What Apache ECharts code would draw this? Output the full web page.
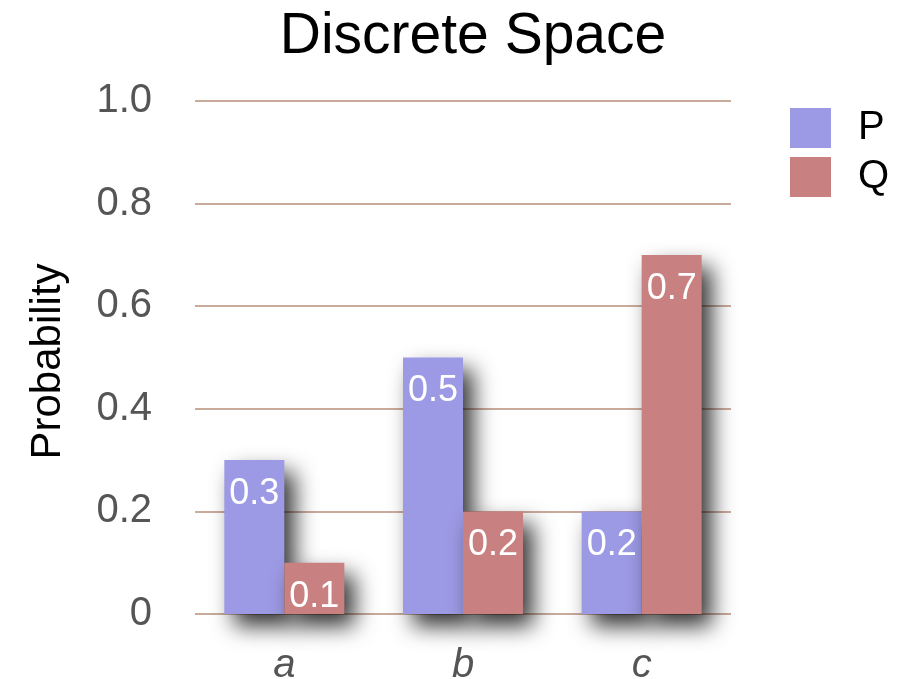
<!DOCTYPE html>
<html>
<head>
<meta charset="utf-8">
<script src="https://cdn.jsdelivr.net/npm/echarts@6/dist/echarts.min.js"></script>
<style>
  html, body { margin: 0; padding: 0; background: #ffffff; }
  #chart { width: 908px; height: 679px; }
</style>
</head>
<body>
<div id="chart"></div>
<script>
// Categories and probabilities of the two distributions
const categories = ['a', 'b', 'c'];
const pValues = [0.3, 0.5, 0.2];
const qValues = [0.1, 0.2, 0.7];
const yTicks = [0, 0.2, 0.4, 0.6, 0.8, 1.0];

const FONT = '"Liberation Sans", Arial, Helvetica, sans-serif';

const chart = echarts.init(document.getElementById('chart'), null, { renderer: 'canvas' });

const barShadow = {
  shadowColor: 'rgba(0,0,0,0.8)',
  shadowBlur: 22,
  shadowOffsetX: 10,
  shadowOffsetY: 12
};

const valueLabel = {
  show: true,
  position: 'insideTop',
  distance: 16,
  color: '#ffffff',
  fontFamily: FONT,
  fontSize: 36,
  formatter: p => p.value.toFixed(1)
};

chart.setOption({
  animation: false,
  backgroundColor: '#ffffff',
  title: {
    text: 'Discrete Space',
    left: 473,
    textAlign: 'center',
    top: 9,
    padding: 0,
    textStyle: { fontFamily: FONT, fontSize: 57, fontWeight: 'normal', color: '#000000' }
  },
  legend: {
    data: ['P', 'Q'],
    orient: 'vertical',
    left: 790,
    top: 108,
    padding: 0,
    itemWidth: 41,
    itemHeight: 40,
    itemGap: 9,
    icon: 'rect',
    textStyle: { fontFamily: FONT, fontSize: 40, color: '#000000', padding: [0, 0, 0, 22] }
  },
  grid: {
    left: 195, right: 177, top: 101, bottom: 65,
    containLabel: false,
    outerBoundsMode: 'none'
  },
  xAxis: {
    type: 'category',
    data: categories,
    axisLine: { show: false },
    axisTick: { show: false },
    axisLabel: {
      margin: 32,
      fontFamily: FONT,
      fontSize: 40,
      fontStyle: 'italic',
      color: '#555555'
    }
  },
  yAxis: {
    type: 'value',
    min: 0,
    max: 1,
    interval: 0.2,
    name: 'Probability',
    nameLocation: 'middle',
    nameGap: 126,
    nameRotate: 90,
    nameTextStyle: { fontFamily: FONT, fontSize: 42, color: '#000000', padding: [0, 8, 0, 0] },
    axisLine: { show: false },
    axisTick: { show: false },
    splitLine: { lineStyle: { color: '#c9ab9c', width: 2 } },
    axisLabel: {
      margin: 43,
      fontFamily: FONT,
      fontSize: 40,
      color: '#555555',
      customValues: yTicks,
      formatter: v => (v === 0 ? '0' : v.toFixed(1))
    }
  },
  series: [
    {
      name: 'P',
      type: 'bar',
      data: pValues,
      barWidth: 60,
      barGap: '0%',
      itemStyle: Object.assign({ color: '#9d9ae5' }, barShadow),
      label: valueLabel
    },
    {
      name: 'Q',
      type: 'bar',
      data: qValues,
      barWidth: 60,
      barGap: '0%',
      itemStyle: Object.assign({ color: '#c98080' }, barShadow),
      label: valueLabel
    }
  ]
});
</script>
</body>
</html>
